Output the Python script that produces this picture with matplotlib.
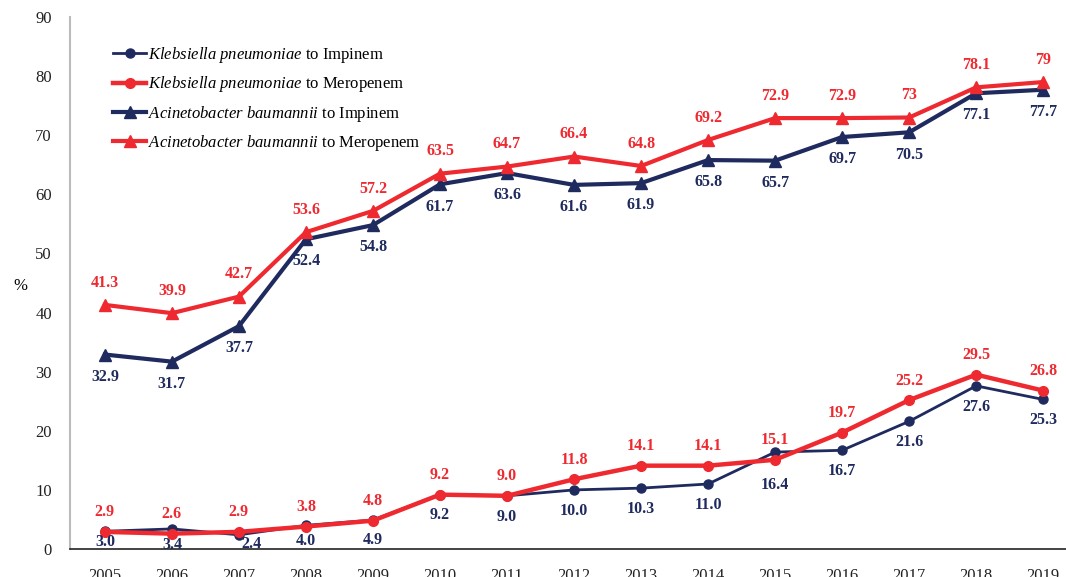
import numpy as np
import matplotlib.pyplot as plt

plt.rcParams['font.family'] = ['Liberation Serif', 'DejaVu Serif']
plt.rcParams['mathtext.fontset'] = 'custom'
plt.rcParams['mathtext.rm'] = 'Liberation Serif'
plt.rcParams['mathtext.it'] = 'Liberation Serif:italic'
plt.rcParams['mathtext.bf'] = 'Liberation Serif:bold'

years = list(range(2005, 2020))

kp_imipenem = [3.0, 3.4, 2.4, 4.0, 4.9, 9.2, 9.0, 10.0, 10.3, 11.0, 16.4, 16.7, 21.6, 27.6, 25.3]
kp_meropenem = [2.9, 2.6, 2.9, 3.8, 4.8, 9.2, 9.0, 11.8, 14.1, 14.1, 15.1, 19.7, 25.2, 29.5, 26.8]
ab_imipenem = [32.9, 31.7, 37.7, 52.4, 54.8, 61.7, 63.6, 61.6, 61.9, 65.8, 65.7, 69.7, 70.5, 77.1, 77.7]
ab_meropenem = [41.3, 39.9, 42.7, 53.6, 57.2, 63.5, 64.7, 66.4, 64.8, 69.2, 72.9, 72.9, 73.0, 78.1, 79.0]

NAVY = '#1f2a5e'
RED = '#ee2a30'

fig = plt.figure(figsize=(10.66, 5.77), dpi=100)
ax = fig.add_axes([0.0657, 0.0485, 0.9343, 0.922])

x = np.array(years)

ax.plot(x, kp_imipenem, color=NAVY, lw=2.0, marker='o', ms=6.5, zorder=3,
        label=r'$\it{Klebsiella\ pneumoniae}$ to Impinem')
ax.plot(x, kp_meropenem, color=RED, lw=3.2, marker='o', ms=7, zorder=4,
        label=r'$\it{Klebsiella\ pneumoniae}$ to Meropenem')
ax.plot(x, ab_imipenem, color=NAVY, lw=3.0, marker='^', ms=9, zorder=3,
        label=r'$\it{Acinetobacter\ baumannii}$ to Impinem')
ax.plot(x, ab_meropenem, color=RED, lw=3.0, marker='^', ms=9, zorder=4,
        label=r'$\it{Acinetobacter\ baumannii}$ to Meropenem')


def annotate(vals, fmt, color, dy, shifts=None):
    shifts = shifts or {}
    for xi, v in zip(years, vals):
        sx, sy = shifts.get(xi, (0, 0))
        ax.annotate(fmt(v), (xi, v), xytext=(sx, dy + sy), textcoords='offset points',
                    ha='center', va='center', color=color, fontsize=11.5,
                    fontweight='bold', zorder=5)


# labels near the x axis are pulled up so they stay inside the plot
annotate(kp_imipenem, lambda v: f'{v:.1f}', NAVY, -15,
         {2005: (0, 7), 2006: (0, 3.5), 2007: (9, 8.5), 2008: (0, 4),
          2009: (0, 0.5), 2015: (0, -9)})
annotate(kp_meropenem, lambda v: f'{v:.1f}', RED, 14)
annotate(ab_imipenem, lambda v: f'{v:.1f}', NAVY, -16)
annotate(ab_meropenem, lambda v: f'{v:g}', RED, 16)

ax.set_xlim(2004.48, 2019.34)
ax.set_ylim(0, 90)
ax.set_yticks(range(0, 91, 10))
ax.set_xticks(years)
ax.tick_params(axis='both', length=0, labelsize=12, colors='#222222')
ax.tick_params(axis='y', pad=13)
ax.tick_params(axis='x', pad=14)
ax.set_ylabel('%', rotation=0, fontsize=12, labelpad=0)
ax.yaxis.set_label_coords(-0.05, 0.48)

for side in ['top', 'right']:
    ax.spines[side].set_visible(False)
ax.spines['left'].set_color('#bbbbbb')
ax.spines['left'].set_linewidth(1.5)
ax.spines['bottom'].set_color('#222222')
ax.spines['bottom'].set_linewidth(1.2)

ax.legend(loc='upper left', bbox_to_anchor=(0.028, 0.975), frameon=False,
          fontsize=12, handlelength=2.0, handletextpad=0.1, labelspacing=0.55)

fig.savefig('out.png', dpi=100)
